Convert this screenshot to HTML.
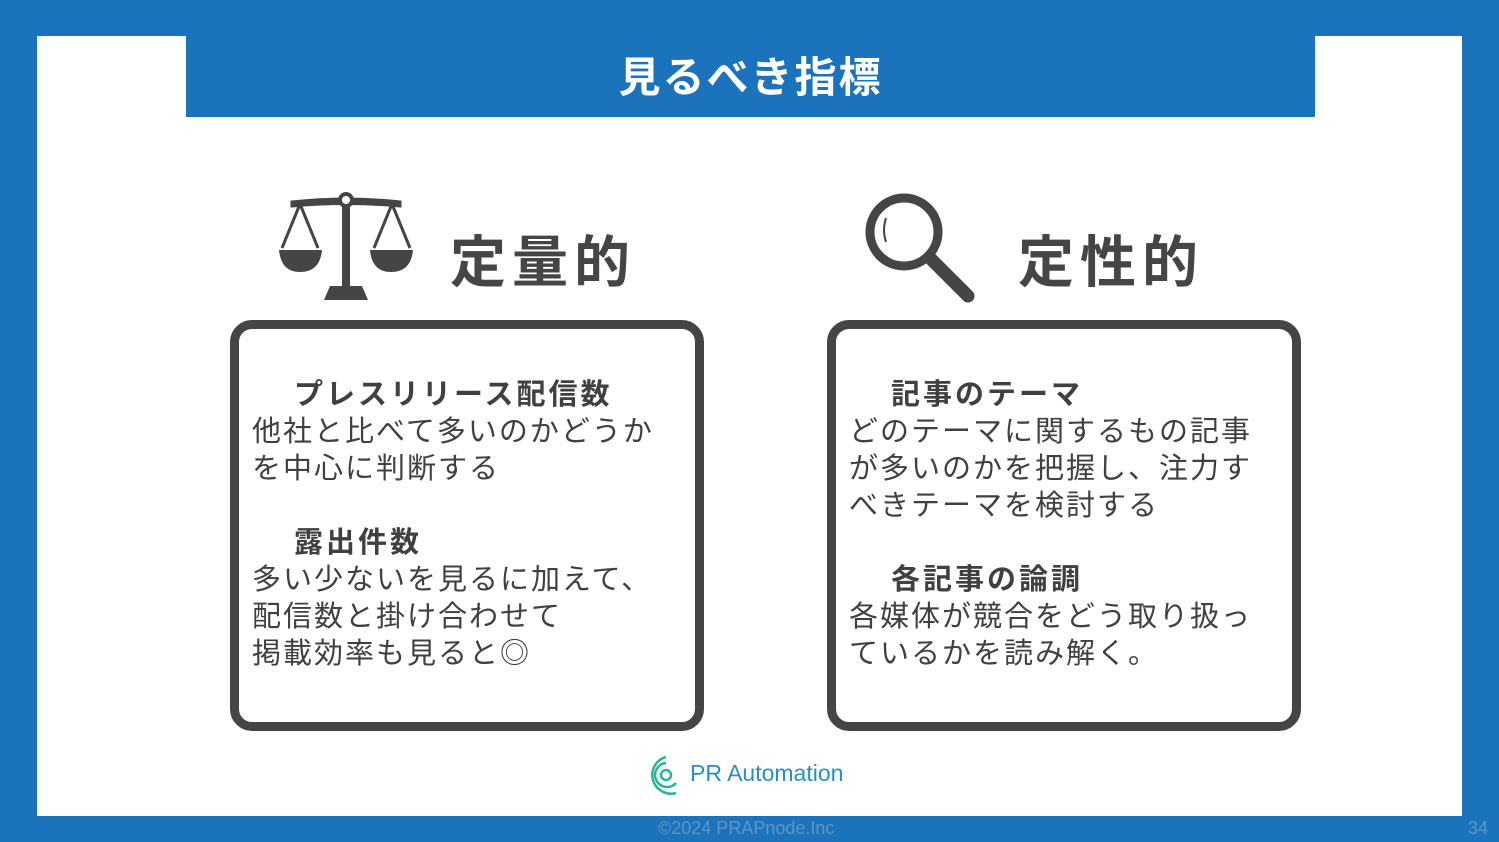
<!DOCTYPE html>
<html><head><meta charset="utf-8"><style>
body{margin:0;width:1499px;height:842px;background:#1b74bb;position:relative;overflow:hidden;font-family:"Liberation Sans","Noto Sans CJK JP",sans-serif;color:#404040}
.panel{position:absolute;left:37px;top:36px;width:1425px;height:780px;background:#fff}
.title{position:absolute;left:186px;top:36px;width:1129px;height:81px;background:#1b74bb;color:#fff;font-size:42px;font-weight:bold;text-align:center;line-height:84px;letter-spacing:2px}
.box{position:absolute;top:320px;width:456px;height:393px;border:9px solid #454545;border-radius:22px;background:#fff}
.h{position:absolute;font-size:56px;font-weight:bold;color:#454545;top:218px;letter-spacing:6px}
.t{position:absolute;font-size:29px;line-height:37px;white-space:nowrap;letter-spacing:2px}
.t b{display:block;padding-left:42px;letter-spacing:3px}
.foot{position:absolute;top:818px;font-size:18px;color:#5f95c4}
</style></head><body>
<div class="panel"></div>
<div class="title">見るべき指標</div>
<svg style="position:absolute;left:278px;top:190px" width="136" height="112" viewBox="0 0 136 112">
<g fill="#454545" stroke="#454545">
<path d="M14 12 Q68 6 122 12 L122 16 Q68 11 14 16Z" stroke-width="3"/>
<circle cx="68" cy="10" r="6" fill="#fff" stroke-width="4"/>
<rect x="64" y="16" width="8" height="80" stroke="none"/>
<path d="M52 96 L84 96 L90 110 L46 110Z" stroke="none"/>
<line x1="22" y1="14" x2="4" y2="58" stroke-width="3" fill="none"/>
<line x1="22" y1="14" x2="40" y2="58" stroke-width="3" fill="none"/>
<line x1="114" y1="14" x2="96" y2="58" stroke-width="3" fill="none"/>
<line x1="114" y1="14" x2="132" y2="58" stroke-width="3" fill="none"/>
<path d="M1 60 L44 60 Q42 82 22 82 Q3 82 1 60Z" stroke="none"/>
<path d="M92 60 L135 60 Q133 82 113 82 Q94 82 92 60Z" stroke="none"/>
</g></svg>
<svg style="position:absolute;left:862px;top:192px" width="114" height="112" viewBox="0 0 114 112">
<circle cx="42" cy="40" r="34" fill="none" stroke="#454545" stroke-width="9"/>
<path d="M24 26 Q20 38 24 50" fill="none" stroke="#454545" stroke-width="2"/>
<line x1="68" y1="66" x2="106" y2="104" stroke="#454545" stroke-width="13" stroke-linecap="round"/>
</svg>
<div class="h" style="left:450px">定量的</div>
<div class="h" style="left:1018px">定性的</div>
<div class="box" style="left:230px"></div>
<div class="box" style="left:827px"></div>
<div class="t" style="left:252px;top:377px"><b>プレスリリース配信数</b>他社と比べて多いのかどうか<br>を中心に判断する<br><br><b>露出件数</b>多い少ないを見るに加えて、<br>配信数と掛け合わせて<br>掲載効率も見ると◎</div>
<div class="t" style="left:849px;top:377px"><b>記事のテーマ</b>どのテーマに関するもの記事<br>が多いのかを把握し、注力す<br>べきテーマを検討する<br><br><b>各記事の論調</b>各媒体が競合をどう取り扱っ<br>ているかを読み解く。</div>
<svg style="position:absolute;left:646px;top:753px" width="40" height="46" viewBox="0 0 40 46"><g fill="none" stroke="#2bb39a" stroke-width="2.5"><path d="M20 4 A18 18 0 1 0 30 40"/><path d="M20 10 A12 12 0 1 0 30 30"/><circle cx="20" cy="22" r="5"/></g></svg>
<div style="position:absolute;left:690px;top:760px;font-size:23px;color:#2a8fc0">PR Automation</div>
<div class="foot" style="left:658px">©2024 PRAPnode.Inc</div>
<div class="foot" style="left:1468px">34</div>
</body></html>
